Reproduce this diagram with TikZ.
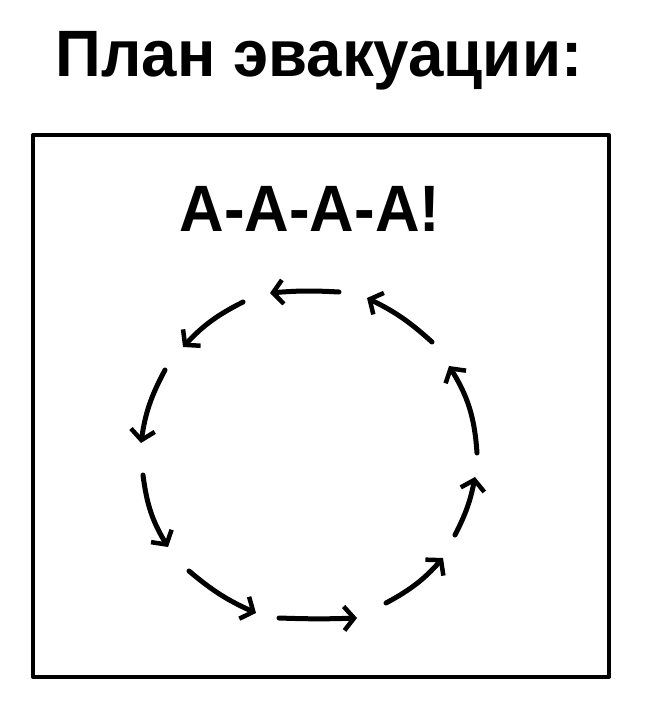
\documentclass[tikz,border=0pt]{standalone}
\usepackage{fontspec}
\setmainfont{Liberation Sans}
\usetikzlibrary{arrows.meta}
\tikzset{
  bigtext/.style={anchor=base, inner sep=0pt, font=\fontsize{65.6}{70}\selectfont\bfseries},
  frame/.style={line width=4pt, line join=round},
  evac/.style={line width=5pt, line cap=round,
    -{Straight Barb[length=10pt,width=24pt,line width=4.5pt]}},
}
\begin{document}
\begin{tikzpicture}[x=1pt,y=-1pt]
\useasboundingbox (0,0) rectangle (647,708);
\fill[white] (0,0) rectangle (647,708);
\node[bigtext] (title) at (319,77) {\scalebox{0.97}[1]{План эвакуации:}};
\draw[frame] (33,135) rectangle (609,677);
\node[bigtext] (scream) at (310,232) {\scalebox{0.94}[1]{А-А-А-А!}};
% arrow end points
\coordinate (s1) at (339,292); \coordinate (t1) at (270,293);
\coordinate (s2) at (243,302); \coordinate (t2) at (183,347);
\coordinate (s3) at (165,370); \coordinate (t3) at (141,443);
\coordinate (s4) at (143,475); \coordinate (t4) at (168,547);
\coordinate (s5) at (189,571); \coordinate (t5) at (256,613);
\coordinate (s6) at (279,618); \coordinate (t6) at (357,618);
\coordinate (s7) at (386,603); \coordinate (t7) at (443,558);
\coordinate (s8) at (455,535); \coordinate (t8) at (475,477);
\coordinate (s9) at (477,453); \coordinate (t9) at (449,366);
\coordinate (s10) at (432,342); \coordinate (t10) at (367,298);
\draw[evac] (s1) to[bend right=4] (t1);
\draw[evac] (s2) to[bend right=10] (t2);
\draw[evac] (s3) to[bend right=10] (t3);
\draw[evac] (s4) to[bend right=12] (t4);
\draw[evac] (s5) to[bend right=8] (t5);
\draw[evac] (s6) to[bend right=2] (t6);
\draw[evac] (s7) to[bend right=10] (t7);
\draw[evac] (s8) to[bend right=8] (t8);
\draw[evac] (s9) to[bend right=14] (t9);
\draw[evac] (s10) to[bend right=8] (t10);
\end{tikzpicture}
\end{document}
